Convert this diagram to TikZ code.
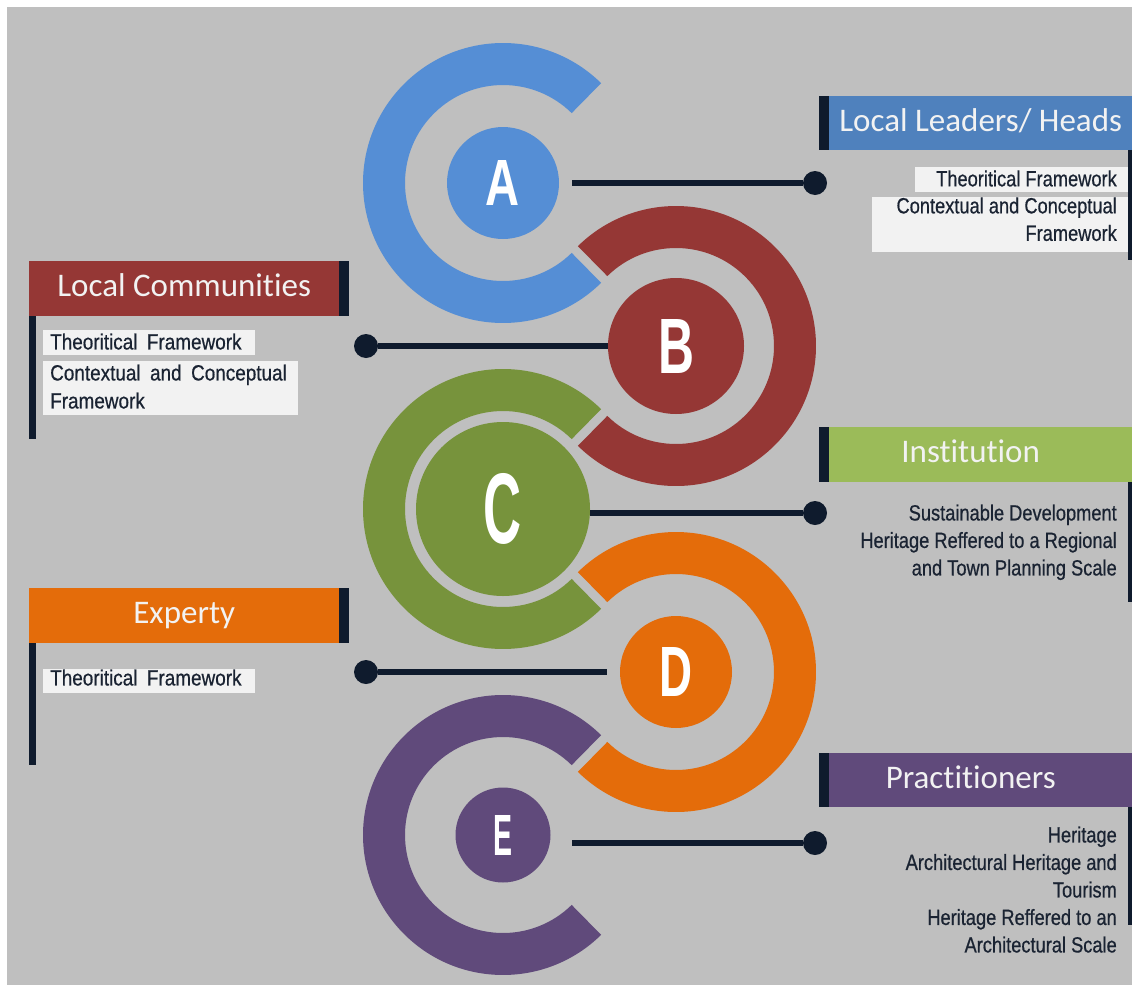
\documentclass[tikz,border=0pt]{standalone}
\usepackage{fontspec}
\usepackage{graphicx}
\usetikzlibrary{calc}
\setmainfont[Ligatures=NoCommon]{Carlito}
\newfontfamily\notefont[FakeStretch=0.83,FakeBold=0.6]{Liberation Sans}
\newfontfamily\leftnotefont[FakeStretch=0.86,FakeBold=0.6,WordSpace=1.8]{Liberation Sans}
\newfontfamily\letterfont{Liberation Sans}

\definecolor{paper}{HTML}{BFBFBF}
\definecolor{navy}{HTML}{0F1B2D}
\definecolor{notetext}{HTML}{1A2332}
\definecolor{notebox}{HTML}{F2F2F2}
\definecolor{ablue}{HTML}{558ED5}
\definecolor{hblue}{HTML}{4F81BD}
\definecolor{bred}{HTML}{953735}
\definecolor{cgreen}{HTML}{77933C}
\definecolor{hgreen}{HTML}{9BBB59}
\definecolor{dorange}{HTML}{E46C0A}
\definecolor{epurple}{HTML}{604A7B}

% C-shaped band round a disk: colour, centre, start angle, end angle
\newcommand{\band}[4]{%
  \fill[#1] ($(#2)+(#3:140pt)$) arc[start angle=#3, end angle=#4, radius=140pt]
    -- ($(#2)+(#4:98pt)$) arc[start angle=#4, end angle=#3, radius=98pt] -- cycle;}

\begin{document}
\begin{tikzpicture}[x=1pt, y=1pt,
    disk/.style={circle, inner sep=0pt, text=white},
    dot/.style={circle, fill=navy, minimum size=24pt, inner sep=0pt},
    link/.style={navy, line width=5.5pt},
    head/.style={anchor=north west, minimum width=310pt, minimum height=55pt, inner sep=0pt,
      text=white!95!black, font=\fontsize{33}{40}\selectfont, text height=23pt, text depth=7pt},
    lnote/.style={anchor=north west, inner sep=0pt, align=left, text=notetext,
      font=\leftnotefont\fontsize{22}{28}\selectfont},
    rnote/.style={anchor=north east, inner sep=0pt, align=right, text=notetext,
      font=\notefont\fontsize{22}{27.5}\selectfont}]
    % Background
    \useasboundingbox (0,0) rectangle (1132,-985);
    \fill[white] (0,0) rectangle (1132,-985);
    \fill[paper] (7,-7) rectangle (1132,-985);

    % Disks with letters
    \node[disk, fill=ablue, minimum size=112pt] (a) at (503,-183) {\resizebox{34pt}{45pt}{\letterfont\bfseries A}};
    \node[disk, fill=bred, minimum size=136pt] (b) at (676,-346) {\resizebox{36pt}{54pt}{\letterfont\bfseries B}};
    \node[disk, fill=cgreen, minimum size=174pt] (c) at (503,-509) {\resizebox{38pt}{70pt}{\letterfont\bfseries C}};
    \node[disk, fill=dorange, minimum size=112pt] (d) at (676,-672) {\resizebox{33pt}{49pt}{\letterfont\bfseries D}};
    \node[disk, fill=epurple, minimum size=95pt] (e) at (503,-835) {\resizebox{19pt}{40pt}{\letterfont\bfseries E}};

    % The chain of bands
    \band{ablue}{a}{45.5}{314.5}
    \band{bred}{b}{-134.5}{134.5}
    \band{cgreen}{c}{45.5}{314.5}
    \band{dorange}{d}{-134.5}{134.5}
    \band{epurple}{e}{45.5}{314.5}

    % Dots and connectors
    \node[dot] (dot-a) at (815,-183) {};
    \node[dot] (dot-b) at (366,-346) {};
    \node[dot] (dot-c) at (815,-513) {};
    \node[dot] (dot-d) at (366,-672) {};
    \node[dot] (dot-e) at (815,-843) {};
    \draw[link, shorten >=13pt] (dot-a) -- (dot-a -| a.east);
    \draw[link] (dot-b) -- (dot-b -| b.west);
    \draw[link] (dot-c) -- (dot-c -| c.east);
    \draw[link, shorten >=13pt] (dot-d) -- (dot-d -| d.west);
    \draw[link, shorten >=21pt] (dot-e) -- (dot-e -| e.east);

    % Headers
    \node[head, fill=bred] (lc) at (29,-261) {Local Communities};
    \node[head, fill=dorange] (ex) at (29,-588) {Experty};
    \node[head, fill=hblue, minimum width=303pt, minimum height=54pt] (ll) at (829,-96) {Local Leaders/ Heads};
    \node[head, fill=hgreen, minimum width=303pt] (in) at (829,-427) {Institution\hspace*{20pt}};
    \node[head, fill=epurple, minimum width=303pt, minimum height=54pt] (pr) at (829,-753) {Practitioners\hspace*{20pt}};
    \fill[navy] (lc.south east) rectangle ([xshift=10pt]lc.north east);
    \fill[navy] (lc.south west) rectangle ++(7,-123);
    \fill[navy] (ex.south east) rectangle ([xshift=10pt]ex.north east);
    \fill[navy] (ex.south west) rectangle ++(7,-122);
    \fill[navy] ([xshift=-10pt]ll.south west) rectangle (ll.north west);
    \fill[navy] (ll.south east) rectangle ++(-4,-110);
    \fill[navy] ([xshift=-10pt]in.south west) rectangle (in.north west);
    \fill[navy] (in.south east) rectangle ++(-4,-120);
    \fill[navy] ([xshift=-10pt]pr.south west) rectangle (pr.north west);
    \fill[navy] (pr.south east) rectangle ++(-4,-118);

    % Notes
    \fill[notebox] (43,-330) rectangle (255,-355);
    \fill[notebox] (43,-361) rectangle (298,-415);
    \fill[notebox] (43,-669) rectangle (255,-693);
    \fill[notebox] (915,-167) rectangle (1128,-192);
    \fill[notebox] (872,-197) rectangle (1128,-252);
    \node[lnote] (lc-1) at (50,-333.3) {Theoritical Framework};
    \node[lnote] (lc-2) at (50,-364.3) {Contextual and Conceptual\\Framework};
    \node[lnote] (ex-1) at (50,-669.3) {Theoritical Framework};
    \node[rnote] (ll-1) at (1117,-170.2) {Theoritical Framework};
    \node[rnote] (ll-2) at (1117,-197.2) {Contextual and Conceptual\\Framework};
    \node[rnote] (in-1) at (1117,-504.3) {Sustainable Development\\Heritage Reffered to a Regional\\and Town Planning Scale};
    \node[rnote] (pr-1) at (1117,-826.3) {Heritage\\Architectural Heritage and\\Tourism\\Heritage Reffered to an\\Architectural Scale};
\end{tikzpicture}
\end{document}
